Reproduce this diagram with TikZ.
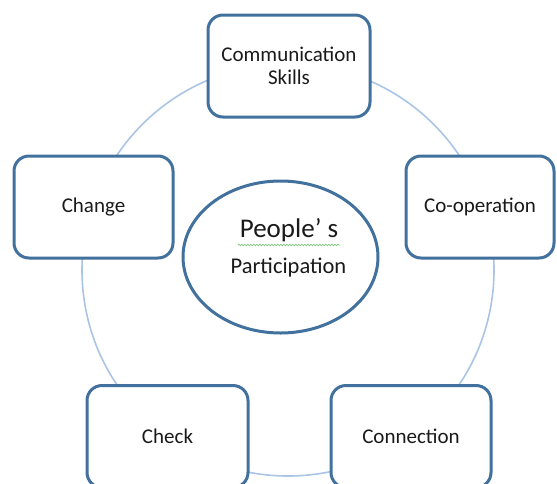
\documentclass[tikz,border=0pt]{standalone}
\usepackage{fontspec}
\setmainfont{Carlito}
\usetikzlibrary{decorations.pathmorphing}
\definecolor{boxblue}{HTML}{41719C}
\definecolor{ringblue}{HTML}{A9C4E4}
\definecolor{txt}{HTML}{1A1A1A}
\definecolor{spell}{HTML}{7FC97F}
\tikzset{
  box/.style={draw=boxblue, line width=3pt, fill=white, rounded corners=15pt,
    minimum height=102pt, align=center, text=txt, font=\fontsize{21}{23}\selectfont, inner sep=2pt},
  ring/.style={draw=ringblue, line width=1.6pt}
}
\begin{document}
\begin{tikzpicture}[x=1pt,y=-1pt]
\useasboundingbox (0,0) rectangle (557,483);
\clip (0,0) rectangle (557,483);
\coordinate (ctr) at (288,270);
\draw[ring] (ctr) circle (206pt);
\node[box, minimum width=162pt] (comm) at (289,66) {Communication\\Skills};
\node[box, minimum width=159pt] (change) at (93.5,207) {Change};
\node[box, minimum width=148pt] (coop) at (480,207) {Co-operation};
\node[box, minimum width=161pt] (check) at (167.5,436.5) {Check};
\node[box, minimum width=160pt] (conn) at (411,436.5) {Connection};
\coordinate (hubc) at (280.5,257);
\draw[draw=boxblue, line width=3pt, fill=white] (hubc) ellipse (97.5pt and 76pt);
\node[text=txt, font=\fontsize{27}{29}\selectfont] (people) at (289,230) {People' s};
\node[text=txt, font=\fontsize{22.5}{25}\selectfont] (part) at (288.5,268) {Participation};
\draw[spell, line width=0.7pt, decorate, decoration={snake, amplitude=0.8pt, segment length=3pt}] (238,245) -- (340,245);
\end{tikzpicture}
\end{document}
